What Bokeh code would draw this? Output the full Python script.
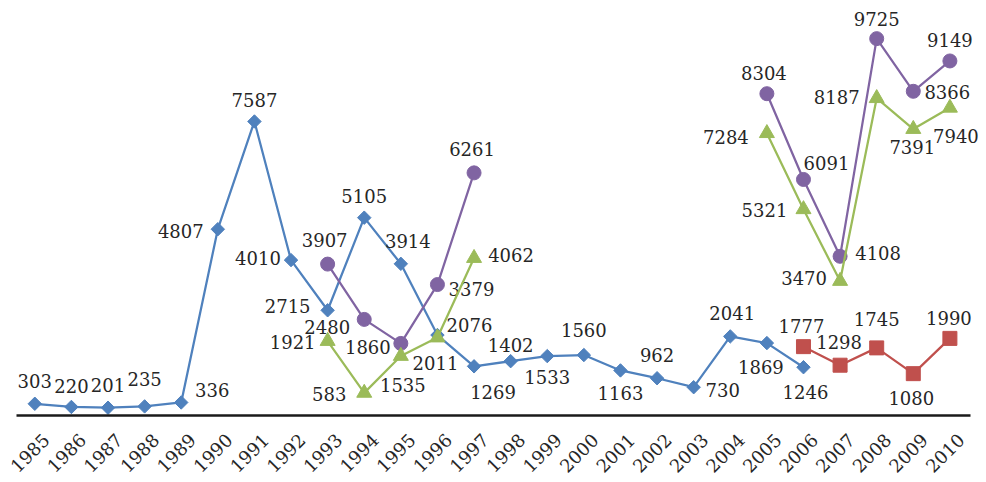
import math
from bokeh.plotting import figure
from bokeh.models import Range1d, FixedTicker, ColumnDataSource, CustomJSTickFormatter
from bokeh.core.properties import value
from bokeh.embed import file_html
from bokeh.resources import INLINE

nan = float("nan")

years = list(range(1985, 2011))

blue = [303, 220, 201, 235, 336, 4807, 7587, 4010, 2715, 5105, 3914, 2076, 1269,
        1402, 1533, 1560, 1163, 962, 730, 2041, 1869, 1246,
        None, None, None, None]
purple = [None] * 8 + [3907, 2480, 1860, 3379, 6261] + [None] * 7 + \
         [8304, 6091, 4108, 9725, 8366, 9149]
green = [None] * 8 + [1921, 583, 1535, 2011, 4062] + [None] * 7 + \
        [7284, 5321, 3470, 8187, 7391, 7940]
red = [None] * 21 + [1777, 1298, 1745, 1080, 1990]

# label placement (screen pixels right / down, relative to each marker)
blue_off = [(0, -23), (0, -21), (0, -23), (0, -27), (31, -12), (-37, 2), (0, -21),
            (-33, -2), (-40, -4), (0, -22), (7, -23), (32, -10), (19, 26), (0, -16),
            (0, 21), (0, -25), (0, 23), (0, -23), (29, 3), (2, -23), (-6, 24), (2, 25)]
purple_off = {1993: (-3, -24), 1994: (-37, 8), 1995: (-33, 4), 1996: (34, 4), 1997: (-2, -24),
              2005: (-3, -21), 2006: (23, -16), 2007: (38, -3), 2008: (0, -20),
              2009: (34, 1), 2010: (0, -21)}
green_off = {1993: (-35, 1), 1994: (-35, 1), 1995: (2, 29), 1996: (-2, 25), 1997: (37, -3),
             2005: (-41, 4), 2006: (-39, 1), 2007: (-36, -3), 2008: (-40, -1),
             2009: (-1, 18), 2010: (6, 28)}
red_off = {2006: (-2, -21), 2007: (-1, -23), 2008: (0, -29), 2009: (-2, 24), 2010: (-1, -20)}

BLUE = "#4F81BD"
PURPLE = "#8064A2"
GREEN = "#9BBB59"
RED = "#C0504D"
FONT = "DejaVu Serif"
TEXT_COLOR = "#262626"

X_START, X_END = 1984.5, 2011.0
AXIS_END = 2010.57
TICK_SHIFT = 0.3  # year labels sit a little right of each category

p = figure(width=986, height=482, output_backend="svg", toolbar_location=None,
           x_range=Range1d(X_START, X_END), y_range=Range1d(0, 10580),
           min_border_left=16, min_border_right=0, min_border_top=5,
           min_border_bottom=67)
p.outline_line_color = None
p.grid.visible = False
p.yaxis.visible = False
p.background_fill_color = "white"

ax = p.xaxis[0]
ax.ticker = FixedTicker(ticks=[yr + TICK_SHIFT for yr in years])
ax.formatter = CustomJSTickFormatter(code="return String(Math.floor(tick));")
ax.bounds = (X_START, AXIS_END)
ax.axis_line_color = "#1a1a1a"
ax.axis_line_width = 2.5
ax.major_tick_line_color = None
ax.minor_tick_line_color = None
ax.major_label_orientation = math.pi / 4
ax.major_label_text_font = FONT
ax.major_label_text_font_size = "18px"
ax.major_label_text_color = TEXT_COLOR
ax.major_label_standoff = 15


def series(vals, color, marker, size, angle, offsets):
    ys = [nan if v is None else float(v) for v in vals]
    src = ColumnDataSource(dict(x=years, y=ys))
    p.line("x", "y", source=src, line_color=color, line_width=2.25)
    p.scatter("x", "y", source=src, marker=marker, size=size, angle=angle,
              fill_color=color, line_color=color)
    lx, ly, lt, dx, dy = [], [], [], [], []
    for yr, v in zip(years, vals):
        if v is None:
            continue
        off = offsets[yr] if isinstance(offsets, dict) else offsets[yr - 1985]
        lx.append(yr)
        ly.append(v)
        lt.append(str(v))
        dx.append(off[0])
        dy.append(off[1])
    lsrc = ColumnDataSource(dict(x=lx, y=ly, t=lt, dx=dx, dy=dy))
    p.text("x", "y", text="t", source=lsrc, x_offset="dx", y_offset="dy",
           text_align="center", text_baseline="middle",
           text_font=value(FONT), text_font_size="18px", text_color=TEXT_COLOR)


series(blue, BLUE, "square", 9.5, math.pi / 4, blue_off)
series(purple, PURPLE, "circle", 14, 0, purple_off)
series(green, GREEN, "triangle", 15, 0, green_off)
series(red, RED, "square", 14, 0, red_off)

open("out.html", "w").write(file_html(p, INLINE))
